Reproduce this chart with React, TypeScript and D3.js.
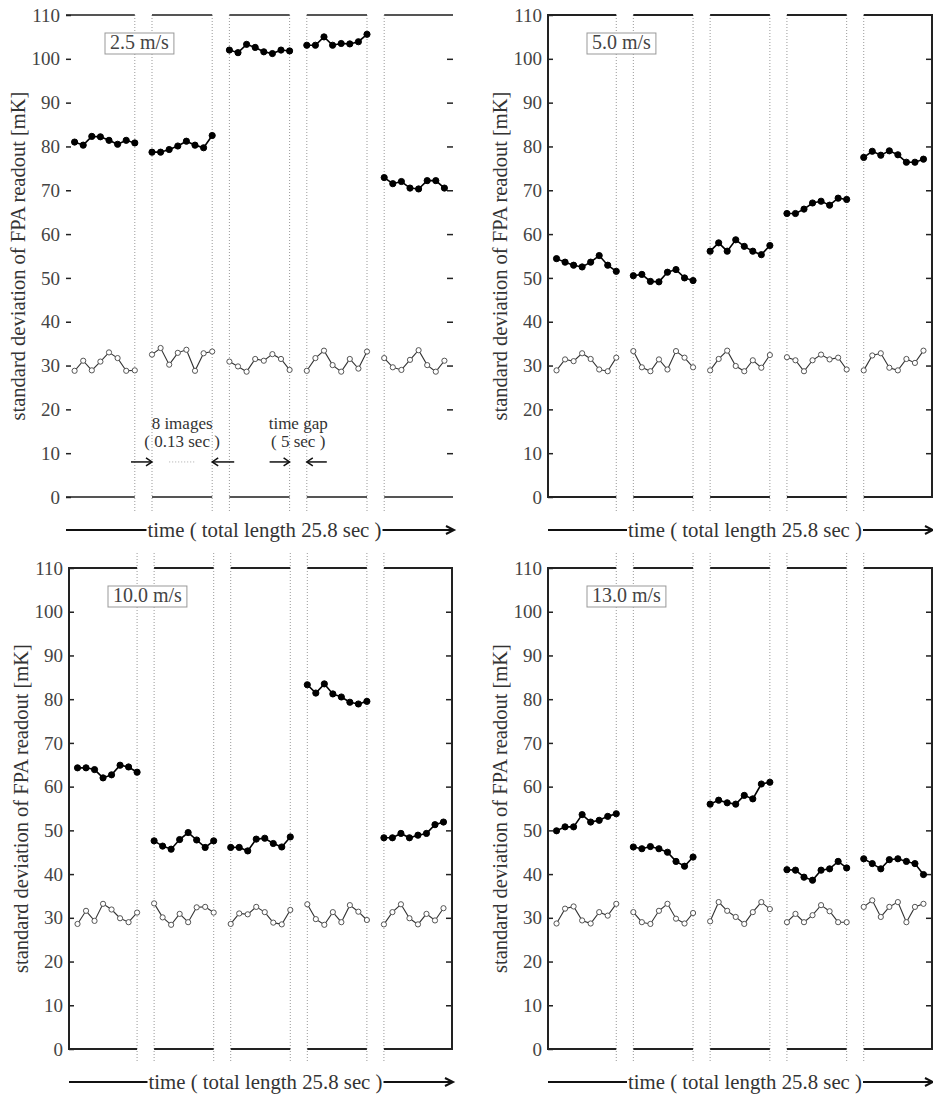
import React, { useEffect, useRef } from "react";
import * as d3 from "d3";

// wind speeds, one panel each
const speeds = ["2.5 m/s", "5.0 m/s", "10.0 m/s", "13.0 m/s"];
const yTicks = [0, 10, 20, 30, 40, 50, 60, 70, 80, 90, 100, 110];

// standard deviation [mK], 5 bursts x 8 images; hot = filled dots, cold = open dots
const hot25 = [
    [81.0, 80.3, 82.3, 82.2, 81.4, 80.5, 81.4, 80.8],
    [78.7, 78.7, 79.3, 80.1, 81.2, 80.3, 79.7, 82.5],
    [102.0, 101.4, 103.3, 102.6, 101.6, 101.2, 102.0, 101.8],
    [103.1, 103.1, 105.0, 103.1, 103.5, 103.4, 103.9, 105.6],
    [72.9, 71.5, 72.0, 70.5, 70.3, 72.2, 72.2, 70.5]
];
const cold25 = [
    [28.8, 31.1, 28.9, 30.9, 33.0, 31.7, 28.8, 28.9],
    [32.5, 34.0, 30.2, 32.9, 33.6, 28.8, 32.8, 33.2],
    [30.9, 29.8, 28.6, 31.5, 31.1, 32.6, 31.5, 29.0],
    [28.8, 31.7, 33.4, 30.1, 28.6, 31.5, 29.3, 33.2],
    [31.7, 29.6, 29.0, 31.3, 33.5, 30.1, 28.6, 31.1]
];
const hot50 = [
    [54.4, 53.6, 52.9, 52.5, 53.6, 55.1, 52.9, 51.5],
    [50.5, 50.8, 49.2, 49.1, 51.3, 51.9, 50.0, 49.4],
    [56.1, 58.0, 56.1, 58.7, 57.2, 56.1, 55.3, 57.4],
    [64.7, 64.7, 65.7, 67.1, 67.5, 66.6, 68.2, 67.9],
    [77.5, 78.9, 78.0, 79.0, 78.1, 76.4, 76.4, 77.1]
];
const cold50 = [
    [28.9, 31.4, 31.0, 32.8, 31.5, 29.1, 28.7, 31.8],
    [33.3, 29.6, 28.7, 31.4, 29.1, 33.3, 31.8, 29.6],
    [28.9, 31.5, 33.4, 29.9, 28.7, 31.2, 29.5, 32.4],
    [31.9, 31.2, 28.7, 31.2, 32.5, 31.4, 31.8, 29.1],
    [28.9, 32.3, 32.8, 29.5, 28.9, 31.5, 30.6, 33.4]
];
const hot100 = [
    [64.3, 64.3, 63.9, 62.0, 62.7, 64.9, 64.5, 63.3],
    [47.6, 46.4, 45.7, 47.9, 49.5, 47.8, 46.1, 47.6],
    [46.1, 46.1, 45.3, 48.0, 48.2, 47.0, 46.2, 48.5],
    [83.3, 81.4, 83.5, 81.2, 80.5, 79.3, 78.9, 79.5],
    [48.3, 48.3, 49.3, 48.3, 48.9, 49.3, 51.3, 51.9]
];
const cold100 = [
    [28.6, 31.6, 29.3, 33.2, 31.9, 29.9, 29.0, 31.2],
    [33.3, 30.1, 28.4, 30.9, 29.0, 32.4, 32.5, 31.2],
    [28.6, 31.0, 30.8, 32.5, 31.3, 28.9, 28.5, 31.8],
    [33.1, 29.7, 28.4, 31.3, 29.0, 32.9, 31.4, 29.5],
    [28.5, 31.3, 33.1, 29.9, 28.5, 30.9, 29.4, 32.2]
];
const hot130 = [
    [49.9, 50.8, 50.8, 53.6, 51.9, 52.3, 53.2, 53.8],
    [46.2, 45.8, 46.3, 45.8, 45.0, 42.9, 41.8, 43.9],
    [56.0, 56.9, 56.3, 56.0, 58.0, 57.2, 60.6, 61.0],
    [41.0, 40.9, 39.3, 38.6, 40.9, 41.2, 42.9, 41.4],
    [43.5, 42.4, 41.2, 43.3, 43.5, 42.9, 42.4, 39.9]
];
const cold130 = [
    [28.7, 32.1, 32.6, 29.4, 28.7, 31.3, 30.5, 33.2],
    [31.3, 29.0, 28.6, 31.6, 33.2, 29.8, 28.7, 31.1],
    [29.2, 33.6, 31.6, 30.2, 28.6, 31.3, 33.6, 32.0],
    [29.0, 30.9, 29.0, 30.6, 32.9, 31.5, 29.0, 29.0],
    [32.5, 34.0, 30.2, 32.5, 33.6, 29.0, 32.5, 33.2]
];

const xLabel = "time ( total length 25.8 sec )";
const yLabel = "standard deviation of FPA readout [mK]";

const SERIF = "'Liberation Serif', 'Times New Roman', serif";
const GAP = 2; // empty units between bursts
const idx = (k: number, j: number) => k * (7 + GAP) + j;

const panels = [
    { speed: speeds[0], hot: hot25, cold: cold25, left: 66, right: 453, top: 15, bottom: 497, frame: false, dotUp: 0, notes: true },
    { speed: speeds[1], hot: hot50, cold: cold50, left: 548, right: 932, top: 15, bottom: 497, frame: true, dotUp: 0, notes: false },
    { speed: speeds[2], hot: hot100, cold: cold100, left: 69, right: 452, top: 568, bottom: 1049, frame: true, dotUp: 15, notes: false },
    { speed: speeds[3], hot: hot130, cold: cold130, left: 548, right: 932, top: 568, bottom: 1049, frame: true, dotUp: 15, notes: false }
];

const arrowHead = (g: any, x: number, y: number, dir: number, len: number) => {
    g.append("line")
        .attr("x1", x - dir * len).attr("x2", x)
        .attr("y1", y).attr("y2", y)
        .attr("stroke", "#111").attr("stroke-width", 1.5);
    g.append("path")
        .attr("d", `M${x - dir * 6},${y - 4} L${x},${y} L${x - dir * 6},${y + 4}`)
        .attr("fill", "none").attr("stroke", "#111").attr("stroke-width", 1.5);
};

const App = () => {
    const svgRef = useRef(null);

    useEffect(() => {
        const svg = d3.select(svgRef.current);
        svg.selectAll("*").remove();

        panels.forEach(p => {
            const g = svg.append("g");
            const x = d3.scaleLinear().domain([-1, idx(4, 7) + 1]).range([p.left, p.right]);
            const y = d3.scaleLinear().domain([0, 110]).range([p.bottom, p.top]);

            // dotted burst boundaries
            const bounds: number[] = [];
            for (let k = 0; k < 5; k++) {
                if (k > 0) bounds.push(idx(k, 0));
                if (k < 4) bounds.push(idx(k, 7));
            }
            g.selectAll(".bd")
                .data(bounds)
                .enter()
                .append("line")
                .attr("x1", d => x(d)).attr("x2", d => x(d))
                .attr("y1", p.top - p.dotUp).attr("y2", p.bottom + 14)
                .attr("stroke", "#999")
                .attr("stroke-width", 1)
                .attr("stroke-dasharray", "1,2");

            // broken top and bottom frame lines
            for (let k = 0; k < 5; k++) {
                const x0 = k === 0 ? p.left : x(idx(k, 0));
                const x1 = k === 4 ? p.right : x(idx(k, 7));
                [p.top, p.bottom].forEach(yy => {
                    g.append("line")
                        .attr("x1", x0).attr("x2", x1)
                        .attr("y1", yy).attr("y2", yy)
                        .attr("stroke", p.frame ? "#222" : "#555")
                        .attr("stroke-width", 2);
                });
            }
            if (p.frame) {
                [p.left, p.right].forEach(xx => {
                    g.append("line")
                        .attr("x1", xx).attr("x2", xx)
                        .attr("y1", p.top - 1).attr("y2", p.bottom + 1)
                        .attr("stroke", "#222")
                        .attr("stroke-width", 2);
                });
            }

            // axes, ticks pointing inward
            const ax = g.append("g")
                .attr("transform", `translate(${p.left},0)`)
                .call(d3.axisLeft(y).tickValues(yTicks).tickSize(-5).tickPadding(6));
            ax.select(".domain").remove();
            ax.selectAll("line").attr("stroke", "#222").attr("stroke-width", 1.5);
            ax.selectAll("text")
                .attr("font-family", SERIF)
                .attr("font-size", 19)
                .attr("fill", "#444");
            const axr = g.append("g")
                .attr("transform", `translate(${p.right},0)`)
                .call(d3.axisRight(y).tickValues(yTicks.filter(t => t > 0 && t < 110)).tickSize(-6).tickFormat(() => ""));
            axr.select(".domain").remove();
            axr.selectAll("line").attr("stroke", "#222").attr("stroke-width", 1.5);

            // y label
            g.append("text")
                .attr("transform", `translate(${p.left - 41},${(p.top + p.bottom) / 2}) rotate(-90)`)
                .attr("text-anchor", "middle")
                .attr("font-family", SERIF)
                .attr("font-size", 20.5)
                .attr("fill", "#333")
                .text(yLabel);

            // time arrow
            const ay = p.bottom + 33;
            const cx = (p.left + p.right) / 2 + 5;
            const tw = 234;
            g.append("text")
                .attr("x", cx).attr("y", ay + 7)
                .attr("text-anchor", "middle")
                .attr("font-family", SERIF)
                .attr("font-size", 21)
                .attr("fill", "#333")
                .attr("textLength", tw)
                .attr("lengthAdjust", "spacingAndGlyphs")
                .text(xLabel);
            g.append("line")
                .attr("x1", p.left).attr("x2", cx - tw / 2 - 1)
                .attr("y1", ay).attr("y2", ay)
                .attr("stroke", "#111").attr("stroke-width", 2);
            g.append("line")
                .attr("x1", cx + tw / 2 + 1).attr("x2", p.right + 1)
                .attr("y1", ay).attr("y2", ay)
                .attr("stroke", "#111").attr("stroke-width", 2);
            g.append("path")
                .attr("d", `M${p.right - 7},${ay - 4} L${p.right + 1},${ay} L${p.right - 7},${ay + 4}`)
                .attr("fill", "none").attr("stroke", "#111").attr("stroke-width", 2);

            // speed box
            const box = g.append("rect")
                .attr("x", p.left + 39).attr("y", p.top + 18)
                .attr("height", 21)
                .attr("fill", "white")
                .attr("stroke", "#999")
                .attr("stroke-width", 1);
            const bt = g.append("text")
                .attr("x", p.left + 44).attr("y", p.top + 34)
                .attr("font-family", SERIF)
                .attr("font-size", 20)
                .attr("fill", "#444")
                .text(p.speed);
            const tl = (bt.node() as any).getComputedTextLength();
            box.attr("width", tl + 10);

            // series, one broken line per burst
            const drawSeries = (rows: number[][], filled: boolean) => {
                rows.forEach((row, k) => {
                    const pl = d3.line<number>()
                        .x((d, j) => x(idx(k, j)))
                        .y(d => y(d));
                    g.append("path")
                        .datum(row)
                        .attr("fill", "none")
                        .attr("stroke", filled ? "#000" : "#333")
                        .attr("stroke-width", filled ? 1.6 : 1.1)
                        .attr("d", pl);
                    g.selectAll(null)
                        .data(row)
                        .enter()
                        .append("circle")
                        .attr("cx", (d, j) => x(idx(k, j)))
                        .attr("cy", d => y(d))
                        .attr("r", filled ? 3.1 : 2.6)
                        .attr("fill", filled ? "#000" : "#fff")
                        .attr("stroke", filled ? "#000" : "#555")
                        .attr("stroke-width", 1);
                });
            };
            drawSeries(p.cold, false);
            drawSeries(p.hot, true);

            // explanatory notes (first panel only)
            if (p.notes) {
                const ny = y(8);
                const note = (tx: number, ty: number, s: string) =>
                    g.append("text")
                        .attr("x", tx).attr("y", ty)
                        .attr("text-anchor", "middle")
                        .attr("font-family", SERIF)
                        .attr("font-size", 17)
                        .attr("fill", "#333")
                        .text(s);
                const c1 = (x(idx(1, 0)) + x(idx(1, 7))) / 2;
                const c2 = (x(idx(2, 7)) + x(idx(3, 0))) / 2;
                note(c1, y(15.5), "8 images");
                note(c1, y(11.5), "( 0.13 sec )");
                note(c2, y(15.5), "time gap");
                note(c2, y(11.5), "( 5 sec )");
                arrowHead(g, x(idx(1, 0)), ny, 1, 21);
                arrowHead(g, x(idx(1, 7)), ny, -1, 22);
                arrowHead(g, x(idx(2, 7)), ny, 1, 20);
                arrowHead(g, x(idx(3, 0)), ny, -1, 20);
                g.append("line")
                    .attr("x1", x(idx(1, 2))).attr("x2", x(idx(1, 5)))
                    .attr("y1", ny).attr("y2", ny)
                    .attr("stroke", "#aaa")
                    .attr("stroke-dasharray", "1,2");
            }
        });
    }, []);

    return (
        <svg
            ref={svgRef}
            width={933}
            height={1094}
            style={{ position: "absolute", left: 0, top: 0, background: "#fff" }}
        />
    );
};

export default App;
